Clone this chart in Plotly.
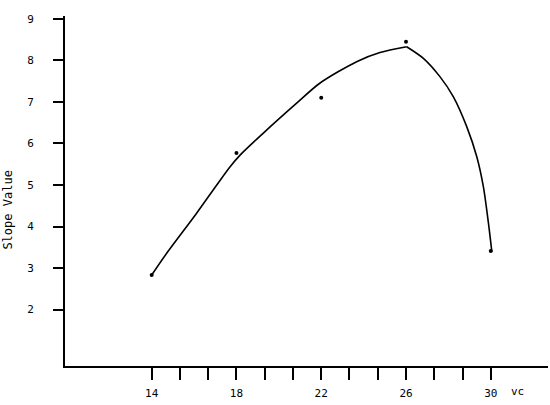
import plotly.graph_objects as go

# measured data points
point_x = [14, 18, 22, 26, 30]
point_y = [2.83, 5.77, 7.1, 8.45, 3.41]

# hand-drawn fitted curve (rising branch, then falling branch)
rise_x = [14.0, 14.7, 16.12, 17.07, 17.7, 18.17, 19.27, 20.84, 21.93, 23.67, 24.77, 26.03]
rise_y = [2.83, 3.35, 4.32, 5.0, 5.44, 5.72, 6.25, 6.97, 7.45, 7.97, 8.19, 8.33]
fall_x = [26.03, 26.82, 27.6, 28.23, 28.87, 29.34, 29.65, 29.89, 30.05]
fall_y = [8.33, 8.05, 7.61, 7.13, 6.40, 5.68, 4.96, 4.08, 3.39]

x_tick_vals = [14 + k * 4 / 3 for k in range(13)]
x_tick_text = ["14", "", "", "18", "", "", "22", "", "", "26", "", "", "30"]
y_tick_vals = [2, 3, 4, 5, 6, 7, 8, 9]

font = "DejaVu Sans Mono"

fig = go.Figure()
for cx, cy in [(rise_x, rise_y), (fall_x, fall_y)]:
    fig.add_trace(go.Scatter(x=cx, y=cy, mode="lines",
                             line=dict(color="black", width=1.6, shape="spline", smoothing=0.8),
                             hoverinfo="skip", showlegend=False))
fig.add_trace(go.Scatter(x=point_x, y=point_y, mode="markers",
                         marker=dict(color="black", size=4), showlegend=False))

fig.update_layout(
    width=550, height=405,
    margin=dict(l=65, r=2, t=16, b=39),
    paper_bgcolor="white", plot_bgcolor="white",
    font=dict(family=font, size=11, color="black"),
    xaxis=dict(range=[9.91, 32.7], tickmode="array", tickvals=x_tick_vals, ticktext=x_tick_text,
               ticks="outside", ticklen=12, tickwidth=2, tickcolor="black",
               showline=True, linecolor="black", linewidth=2, showgrid=False, zeroline=False,
               ticklabelstandoff=4, automargin=False),
    yaxis=dict(range=[0.64, 9.07], tickmode="array", tickvals=y_tick_vals,
               ticks="outside", ticklen=10, tickwidth=2, tickcolor="black",
               showline=True, linecolor="black", linewidth=2, showgrid=False, zeroline=False,
               ticklabelstandoff=17, automargin=False),
    annotations=[
        dict(text="vc", xref="paper", yref="paper", x=0.936, y=-0.074, showarrow=False,
             font=dict(family=font, size=11), xanchor="center", yanchor="middle"),
        dict(text="Slope Value", xref="paper", yref="paper", x=-0.118, y=0.444, showarrow=False,
             textangle=-90, font=dict(family=font, size=12), xanchor="center", yanchor="middle"),
    ],
)

# remove the browser's default 8px body margin so the figure fills the window exactly
fig.write_html("out.html", config={"displayModeBar": False},
               post_script="document.body.style.margin='0';document.body.style.overflow='hidden';")
